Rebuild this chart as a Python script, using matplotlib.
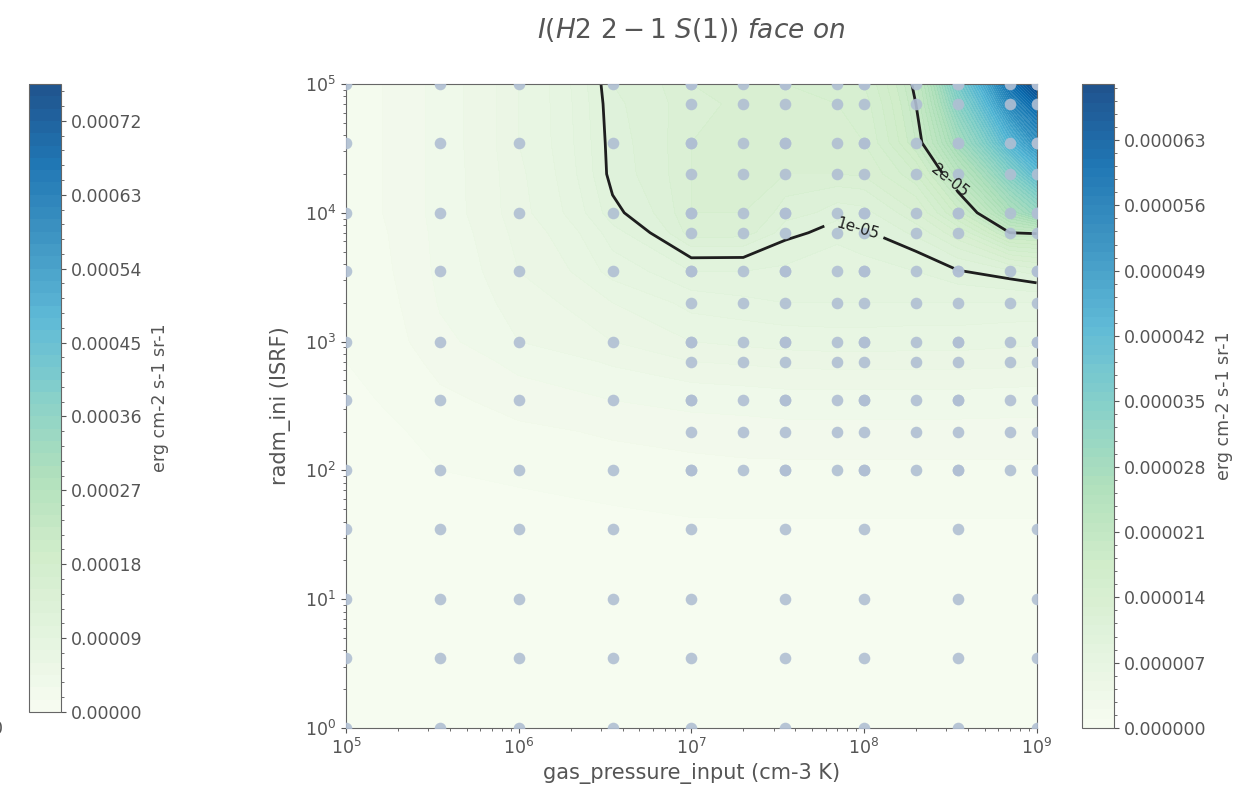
import numpy as np
import matplotlib
matplotlib.use('Agg')
import matplotlib.pyplot as plt
import matplotlib.colors as mcolors
import matplotlib.colorbar as mcolorbar
from matplotlib.ticker import MultipleLocator

GRAY = '#555555'
plt.rcParams['text.color'] = GRAY
plt.rcParams['axes.labelcolor'] = GRAY
plt.rcParams['axes.edgecolor'] = '#666666'
plt.rcParams['xtick.color'] = GRAY
plt.rcParams['ytick.color'] = GRAY

# model points: coarse sweep + refined block at high pressure / field
coarse_p = [1e5, 3.5e5, 1e6, 3.5e6, 1e7, 3.5e7, 1e8, 3.5e8, 1e9]
coarse_g = [1, 3.5, 10, 35, 100, 350, 1e3, 3.5e3, 1e4, 3.5e4, 1e5]
fine_p = [1e7, 2e7, 3.5e7, 7e7, 1e8, 2e8, 3.5e8, 7e8, 1e9]
fine_g = [100, 200, 350, 700, 1e3, 2e3, 3.5e3, 7e3, 1e4, 2e4, 3.5e4, 7e4, 1e5]

# map grid (union of both)
pressure = [1e5, 3.5e5, 1e6, 3.5e6, 1e7, 2e7, 3.5e7, 7e7, 1e8, 2e8, 3.5e8, 7e8, 1e9]
radm = [1, 3.5, 10, 35, 100, 200, 350, 700, 1e3, 2e3, 3.5e3, 7e3, 1e4, 2e4, 3.5e4, 7e4, 1e5]

# I(H2 2-1 S(1)) in units of 1e-5 erg cm-2 s-1 sr-1, one row per radm value
intensity = np.array([
    [0.02, 0.02, 0.02, 0.02, 0.02, 0.02, 0.02, 0.02, 0.02, 0.02, 0.02, 0.02, 0.02],
    [0.02, 0.03, 0.03, 0.03, 0.03, 0.03, 0.03, 0.03, 0.03, 0.03, 0.03, 0.03, 0.03],
    [0.03, 0.04, 0.05, 0.05, 0.05, 0.05, 0.05, 0.05, 0.05, 0.05, 0.05, 0.05, 0.05],
    [0.04, 0.06, 0.07, 0.08, 0.09, 0.09, 0.09, 0.09, 0.09, 0.09, 0.09, 0.09, 0.09],
    [0.06, 0.10, 0.12, 0.15, 0.17, 0.18, 0.18, 0.18, 0.18, 0.18, 0.18, 0.18, 0.18],
    [0.07, 0.13, 0.18, 0.22, 0.25, 0.26, 0.27, 0.27, 0.27, 0.27, 0.27, 0.27, 0.27],
    [0.08, 0.18, 0.25, 0.30, 0.34, 0.35, 0.36, 0.36, 0.36, 0.36, 0.36, 0.35, 0.35],
    [0.10, 0.24, 0.34, 0.42, 0.50, 0.52, 0.54, 0.55, 0.55, 0.55, 0.55, 0.54, 0.53],
    [0.11, 0.28, 0.40, 0.50, 0.60, 0.63, 0.65, 0.66, 0.66, 0.65, 0.65, 0.63, 0.62],
    [0.12, 0.31, 0.46, 0.60, 0.75, 0.78, 0.80, 0.80, 0.80, 0.80, 0.80, 0.80, 0.80],
    [0.13, 0.33, 0.50, 0.75, 0.90, 0.90, 0.88, 0.85, 0.85, 0.90, 0.99, 1.08, 1.15],
    [0.14, 0.34, 0.54, 0.86, 1.26, 1.25, 1.04, 0.93, 1.00, 1.13, 1.40, 2.00, 2.03],
    [0.15, 0.35, 0.57, 0.97, 1.30, 1.30, 1.15, 1.05, 1.07, 1.30, 1.75, 2.60, 3.00],
    [0.15, 0.35, 0.58, 1.05, 1.30, 1.30, 1.30, 1.30, 1.32, 1.60, 2.30, 3.40, 4.10],
    [0.15, 0.35, 0.60, 1.06, 1.30, 1.32, 1.34, 1.36, 1.40, 1.90, 2.80, 4.30, 5.10],
    [0.15, 0.35, 0.60, 1.08, 1.28, 1.32, 1.36, 1.40, 1.45, 2.00, 3.30, 5.30, 6.10],
    [0.15, 0.35, 0.60, 1.10, 1.30, 1.35, 1.40, 1.45, 1.50, 2.06, 3.60, 5.90, 6.85],
]) * 1e-5

levels = np.linspace(0, 6.9e-5, 70)
line_levels = [1e-5, 2e-5]
# scale of the other colorbar on the figure
other_levels = np.linspace(0, 7.65e-4, 52)

fig = plt.figure(figsize=(12.58, 7.99), dpi=100)
ax = fig.add_axes([0.275, 0.0889, 0.549, 0.806])
cax_r = fig.add_axes([0.860, 0.0889, 0.0254, 0.806])
cax_l = fig.add_axes([0.0231, 0.1089, 0.0254, 0.786])

P, G = np.meshgrid(pressure, radm)
cf = ax.contourf(P, G, intensity, levels=levels, cmap='GnBu', alpha=0.9)
cs = ax.contour(P, G, intensity, levels=line_levels, colors='#1e1e1e', linewidths=2)
ax.clabel(cs, fmt='%.0e', fontsize=11, inline=True,
          manual=[(9.5e7, 8e3), (3.0e8, 1.6e4)])

pts_p = [p for p in coarse_p for g in coarse_g] + [p for p in fine_p for g in fine_g]
pts_g = [g for p in coarse_p for g in coarse_g] + [g for p in fine_p for g in fine_g]
ax.scatter(pts_p, pts_g, s=70, color='#b0bfd3', alpha=0.9, linewidths=0, zorder=3)

ax.set_xscale('log')
ax.set_yscale('log')
ax.set_xlim(1e5, 1e9)
ax.set_ylim(1, 1e5)
ax.set_xlabel('gas_pressure_input (cm-3 K)', fontsize=15)
ax.set_ylabel('radm_ini (ISRF)', fontsize=15, labelpad=10)
ax.tick_params(labelsize=12.5)
ax.set_title(r'$I(H2\ 2-1\ S(1))\ face\ on$', fontsize=19, pad=33)

cb = fig.colorbar(cf, cax=cax_r, ticks=np.arange(0, 6.5e-5, 7e-6), format='%.6f')
cb.ax.yaxis.set_minor_locator(MultipleLocator(1.4e-6))
cb.ax.tick_params(labelsize=12.5)
cb.set_label('erg cm-2 s-1 sr-1', fontsize=12.5, labelpad=6)

cb_l = mcolorbar.ColorbarBase(cax_l, cmap=plt.get_cmap('GnBu'), alpha=0.9,
                              norm=mcolors.Normalize(other_levels[0], other_levels[-1]),
                              boundaries=other_levels,
                              ticks=np.arange(0, 7.5e-4, 9e-5), format='%.5f')
cb_l.ax.yaxis.set_minor_locator(MultipleLocator(1.8e-5))
cb_l.ax.tick_params(labelsize=12.5)
cb_l.set_label('erg cm-2 s-1 sr-1', fontsize=12.5, labelpad=6)

fig.text(0.002, 1 - 729 / 799, '0', ha='right', va='center', fontsize=12.5)

fig.savefig('out.png', dpi=100)
